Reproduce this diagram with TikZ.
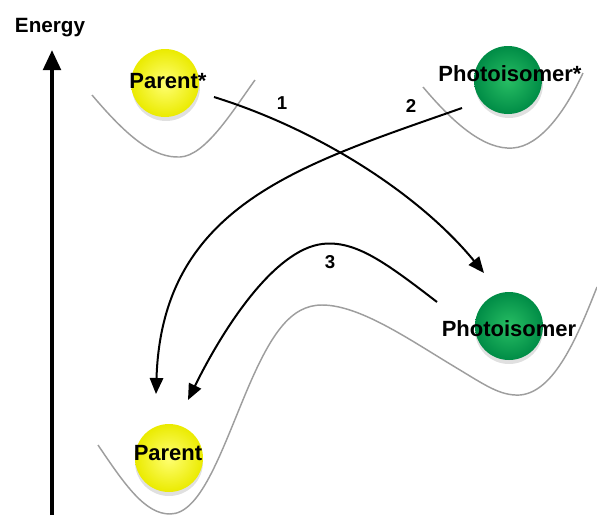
\documentclass[tikz,border=0pt]{standalone}
\usepackage{fontspec}
\setmainfont{Liberation Sans}
\usetikzlibrary{arrows.meta}
\begin{document}
\begin{tikzpicture}[x=0.75pt,y=-0.75pt,
  well/.style={draw=black!38,line width=1.1pt},
  ball/.style={circle,minimum size=51pt,inner sep=0pt},
  yball/.style={ball,shading=radial,inner color=yellow!55!white,outer color=yellow!92!black!100},
  gball/.style={ball,shading=radial,inner color={rgb,255:red,40;green,190;blue,100},outer color={rgb,255:red,0;green,140;blue,70}},
  shadowc/.style={circle,minimum size=51pt,inner sep=0pt,fill=black,opacity=0.12},
  txt/.style={font=\bfseries\fontsize{16.5}{18}\selectfont,inner sep=0pt,anchor=base},
  num/.style={font=\bfseries\fontsize{14}{16}\selectfont,inner sep=0pt},
  conn/.style={line width=1.5pt,-{Triangle[length=12pt,width=10pt]}}]
\useasboundingbox (0,0) rectangle (597,515);

% energy axis
\node[font=\bfseries\fontsize{15.5}{17}\selectfont,inner sep=0pt] (elabel) at (50,28) {Energy};
\coordinate (ebot) at (52,515);
\coordinate (etop) at (52,50);
\draw[line width=3pt,-{Triangle[length=15pt,width=13pt]}] (ebot) -- (etop);

% wells
\draw[well] (92,95) .. controls (130,140) and (155,158) .. (180,157)
  .. controls (205,156) and (232,112) .. (255,80);
\draw[well] (423,87) .. controls (455,125) and (485,150) .. (513,148)
  .. controls (540,146) and (565,112) .. (583,73);
\draw[well] (98,445) .. controls (125,485) and (145,514) .. (170,514)
  .. controls (200,514) and (220,455) .. (245,395)
  .. controls (270,335) and (290,305) .. (322,305)
  .. controls (360,305) and (410,340) .. (455,367)
  .. controls (485,385) and (500,396) .. (520,395)
  .. controls (555,392) and (578,335) .. (597,287);

% balls
\node[shadowc] (s1) at (166,87) {};
\node[shadowc] (s2) at (509,84) {};
\node[shadowc] (s3) at (509,330) {};
\node[shadowc] (s4) at (169,462) {};
\node[yball] (b1) at (165,83) {};
\node[gball] (b2) at (508,80) {};
\node[gball] (b3) at (509,326) {};
\node[yball] (b4) at (169,458) {};

\node[txt] (t1) at (168,88) {Parent*};
\node[txt] (t2) at (510,81) {Photoisomer*};
\node[txt] (t3) at (509,336) {Photoisomer};
\node[txt] (t4) at (168,460) {Parent};

% numbers
\node[num] (n1) at (282,103) {1};
\node[num] (n2) at (411,106) {2};
\node[num] (n3) at (330,262) {3};

% arrows
\coordinate (a1s) at (214,97);
\coordinate (a1e) at (484,273);
\coordinate (a2s) at (462,108);
\coordinate (a2e) at (156,394);
\coordinate (a3s) at (437,302);
\coordinate (a3e) at (188,400);
\draw[conn] (a1s) .. controls (320,130) and (420,195) .. (a1e);
\draw[conn] (a2s) .. controls (300,165) and (162,205) .. (a2e);
\draw[conn] (a3s) .. controls (385,262) and (355,240) .. (322,244)
  .. controls (275,250) and (225,325) .. (a3e);
\end{tikzpicture}
\end{document}
